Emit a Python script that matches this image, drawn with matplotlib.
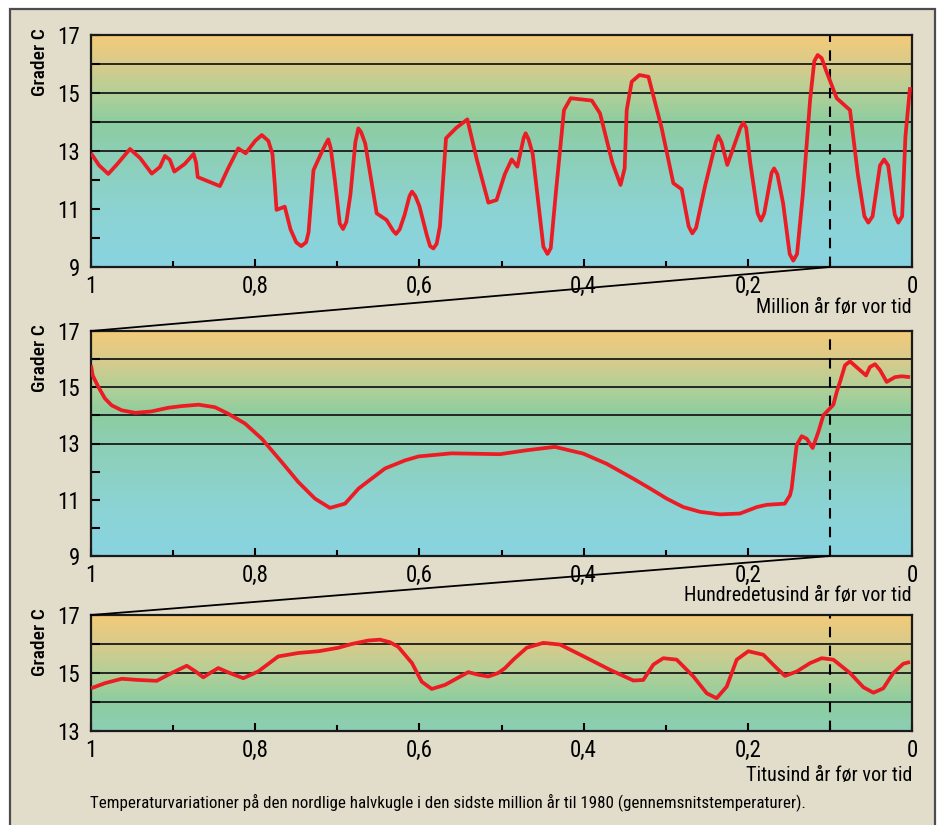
import matplotlib
matplotlib.use('Agg')
import matplotlib.pyplot as plt
import numpy as np
from matplotlib.colors import LinearSegmentedColormap, Normalize
from matplotlib.patches import Rectangle, ConnectionPatch

plt.rcParams['font.family'] = ['Roboto Condensed', 'DejaVu Sans']

# Data: (tid før nu, temperatur i grader C)
p1_points = [
    (1.000, 12.92), (0.990, 12.50), (0.979, 12.21), (0.968, 12.55), (0.9525, 13.07),
    (0.940, 12.75), (0.926, 12.22), (0.916, 12.45), (0.910, 12.83), (0.904, 12.70),
    (0.8985, 12.29), (0.886, 12.55), (0.875, 12.90), (0.872, 12.60), (0.870, 12.10),
    (0.843, 11.79), (0.833, 12.40), (0.8206, 13.09), (0.8116, 12.92), (0.800, 13.35),
    (0.792, 13.55), (0.784, 13.35), (0.779, 12.90), (0.776, 11.80), (0.774, 10.97),
    (0.764, 11.08), (0.757, 10.30), (0.750, 9.85), (0.744, 9.72), (0.738, 9.85),
    (0.735, 10.20), (0.729, 12.34), (0.720, 12.90), (0.714, 13.25), (0.711, 13.40),
    (0.708, 13.10), (0.703, 12.00), (0.697, 10.50), (0.693, 10.31), (0.689, 10.55),
    (0.684, 11.50), (0.678, 13.30), (0.6744, 13.78), (0.671, 13.65), (0.666, 13.26),
    (0.652, 10.85), (0.640, 10.62), (0.632, 10.25), (0.6285, 10.14), (0.624, 10.30),
    (0.618, 10.80), (0.612, 11.45), (0.609, 11.60), (0.605, 11.45), (0.600, 11.10),
    (0.591, 10.10), (0.587, 9.72), (0.583, 9.64), (0.579, 9.80), (0.575, 10.40),
    (0.5676, 13.44), (0.555, 13.80), (0.5416, 14.09), (0.530, 12.70), (0.516, 11.22),
    (0.506, 11.31), (0.496, 12.20), (0.4876, 12.71), (0.4807, 12.46), (0.473, 13.45),
    (0.4706, 13.61), (0.467, 13.40), (0.462, 12.90), (0.449, 9.70), (0.444, 9.45),
    (0.440, 9.65), (0.434, 11.50), (0.4239, 14.41), (0.4157, 14.82), (0.390, 14.74),
    (0.380, 14.30), (0.365, 12.60), (0.355, 11.83), (0.350, 12.40), (0.3475, 14.41),
    (0.3414, 15.39), (0.332, 15.62), (0.321, 15.56), (0.305, 13.80), (0.2907, 11.89),
    (0.2805, 11.68), (0.272, 10.40), (0.2676, 10.16), (0.263, 10.35), (0.252, 11.80),
    (0.239, 13.30), (0.236, 13.52), (0.232, 13.30), (0.225, 12.52), (0.209, 13.80),
    (0.2055, 13.98), (0.202, 13.80), (0.197, 12.60), (0.188, 10.85), (0.184, 10.60),
    (0.180, 10.85), (0.171, 12.25), (0.168, 12.40), (0.164, 12.20), (0.157, 11.20),
    (0.149, 9.45), (0.1446, 9.22), (0.140, 9.45), (0.133, 11.50), (0.124, 14.80),
    (0.119, 16.10), (0.1149, 16.31), (0.110, 16.20), (0.105, 15.80), (0.0917, 14.82),
    (0.0755, 14.41), (0.066, 12.20), (0.058, 10.75), (0.0532, 10.53), (0.048, 10.75),
    (0.039, 12.50), (0.034, 12.71), (0.029, 12.50), (0.021, 10.80), (0.0167, 10.53),
    (0.012, 10.75), (0.008, 13.50), (0.0024, 15.20)]

p2_points = [
    (1.000, 15.78), (0.998, 15.42), (0.991, 15.01), (0.983, 14.60), (0.975, 14.36),
    (0.9626, 14.18), (0.946, 14.09), (0.9264, 14.14), (0.906, 14.27), (0.8895, 14.33),
    (0.869, 14.38), (0.849, 14.29), (0.833, 14.06), (0.8124, 13.71), (0.792, 13.17),
    (0.7677, 12.34), (0.7475, 11.63), (0.7272, 11.04), (0.709, 10.71), (0.6906, 10.86),
    (0.674, 11.40), (0.642, 12.11), (0.6175, 12.40), (0.601, 12.54), (0.561, 12.65),
    (0.520, 12.63), (0.502, 12.62), (0.4693, 12.76), (0.435, 12.88), (0.4004, 12.64),
    (0.372, 12.28), (0.3395, 11.75), (0.319, 11.40), (0.2988, 11.04), (0.2786, 10.74),
    (0.2582, 10.57), (0.2338, 10.48), (0.2095, 10.51), (0.189, 10.74), (0.177, 10.82),
    (0.155, 10.86), (0.1486, 11.16), (0.1466, 11.40), (0.1434, 12.22), (0.1405, 12.94),
    (0.1344, 13.26), (0.1283, 13.17), (0.121, 12.84), (0.1141, 13.41), (0.108, 14.00),
    (0.0958, 14.38), (0.0917, 14.83), (0.0877, 15.19), (0.0816, 15.78), (0.0755, 15.92),
    (0.0654, 15.66), (0.056, 15.42), (0.0512, 15.72), (0.045, 15.82), (0.039, 15.61),
    (0.0308, 15.19), (0.0207, 15.36), (0.0126, 15.39), (0.0024, 15.36)]

p3_points = [
    (1.000, 14.47), (0.983, 14.65), (0.9626, 14.80), (0.9424, 14.76), (0.920, 14.73),
    (0.9017, 15.00), (0.8834, 15.25), (0.873, 15.06), (0.8632, 14.85), (0.855, 15.00),
    (0.845, 15.17), (0.8328, 15.02), (0.8145, 14.82), (0.796, 15.06), (0.772, 15.57),
    (0.7475, 15.69), (0.723, 15.75), (0.6988, 15.87), (0.6825, 16.00), (0.6622, 16.12),
    (0.648, 16.15), (0.6358, 16.06), (0.6257, 15.90), (0.609, 15.34), (0.5972, 14.70),
    (0.585, 14.45), (0.5688, 14.59), (0.5404, 15.03), (0.5283, 14.94), (0.516, 14.88),
    (0.504, 15.00), (0.4957, 15.17), (0.4856, 15.46), (0.4693, 15.87), (0.449, 16.04),
    (0.4287, 15.98), (0.4004, 15.58), (0.3678, 15.11), (0.3394, 14.74), (0.3273, 14.76),
    (0.315, 15.29), (0.303, 15.51), (0.2866, 15.46), (0.2663, 14.88), (0.25, 14.30),
    (0.238, 14.13), (0.2257, 14.53), (0.2135, 15.46), (0.1994, 15.75), (0.1811, 15.63),
    (0.1649, 15.17), (0.1547, 14.90), (0.1405, 15.05), (0.1242, 15.34), (0.110, 15.51),
    (0.0958, 15.46), (0.0755, 15.00), (0.0593, 14.51), (0.047, 14.32), (0.035, 14.47),
    (0.0228, 15.00), (0.0106, 15.32), (0.0024, 15.38)]

x_ticks = [1.0, 0.8, 0.6, 0.4, 0.2, 0.0]
x_tick_labels = ['1', '0,8', '0,6', '0,4', '0,2', '0']
x_labels = ['Million år før vor tid', 'Hundredetusind år før vor tid', 'Titusind år før vor tid']
y_label = 'Grader C'
caption = ('Temperaturvariationer på den nordlige halvkugle i den sidste million år '
           'til 1980 (gennemsnitstemperaturer).')
zoom_x = 0.1

# farveforløb efter temperatur (9 -> 17 grader)
grad_cmap = LinearSegmentedColormap.from_list('temp', [
    (0.0, '#89d4e1'), (0.25, '#8cd3d2'), (0.5, '#8dcfb4'), (0.625, '#8ccda0'),
    (0.75, '#b2d098'), (0.875, '#d8cb8b'), (1.0, '#f3ca7a')])
grad_norm = Normalize(9, 17)

fig = plt.figure(figsize=(9.41, 8.25), dpi=100)
fig.patch.set_facecolor('white')
frame = Rectangle((10 / 941, -0.02), 925 / 941, 1.02 - 9 / 825, transform=fig.transFigure,
                  facecolor='#e2dccb', edgecolor='#4d4d4d', lw=1.6, zorder=-10)
fig.add_artist(frame)

panels = [
    dict(rect=[91 / 941, 1 - 267 / 825, 821 / 941, 232 / 825], ylim=(9, 17),
         yticks=[9, 11, 13, 15, 17], yminor=[10, 12, 14, 16], grid=[13, 14, 15, 16],
         pts=p1_points, xl_y=308),
    dict(rect=[91 / 941, 1 - 556 / 825, 821 / 941, 225 / 825], ylim=(9, 17),
         yticks=[9, 11, 13, 15, 17], yminor=[10, 12, 14, 16], grid=[13, 14, 15, 16],
         pts=p2_points, xl_y=596),
    dict(rect=[91 / 941, 1 - 731 / 825, 821 / 941, 116 / 825], ylim=(13, 17),
         yticks=[13, 15, 17], yminor=[14, 16], grid=[14, 15, 16],
         pts=p3_points, xl_y=775),
]

axes = []
for i, p in enumerate(panels):
    ax = fig.add_axes(p['rect'])
    lo, hi = p['ylim']
    grad = np.linspace(lo, hi, 200).reshape(-1, 1)
    ax.imshow(grad, extent=[1, 0, lo, hi], origin='lower', aspect='auto',
              cmap=grad_cmap, norm=grad_norm, zorder=0)
    for g in p['grid']:
        ax.axhline(g, color='#1a1a1a', lw=1.3, zorder=1)
    ax.axvline(zoom_x, color='black', lw=1.5, ls=(0, (5, 4)), zorder=2)
    xs, ts = zip(*p['pts'])
    ax.plot(xs, ts, color='#ec1c24', lw=2.7, solid_joinstyle='round',
            solid_capstyle='butt', zorder=3)
    ax.set_xlim(1, 0)
    ax.set_ylim(lo, hi)
    ax.set_xticks(x_ticks)
    ax.set_xticklabels(x_tick_labels)
    ax.set_xticks([0.9, 0.7, 0.5, 0.3, 0.1], minor=True)
    ax.set_yticks(p['yticks'])
    ax.set_yticks(p['yminor'], minor=True)
    ax.tick_params(axis='x', which='major', direction='in', length=6, width=1.5,
                   labelsize=16.5, pad=6)
    ax.tick_params(axis='x', which='minor', direction='in', length=4, width=1.5)
    ax.tick_params(axis='y', which='both', direction='in', length=6.5, width=1.5,
                   labelsize=16.5, pad=8)
    for s in ax.spines.values():
        s.set_linewidth(1.6)
        s.set_color('#1a1a1a')
    fig.text(912 / 941, 1 - p['xl_y'] / 825, x_labels[i], ha='right', va='center',
             fontsize=14.5)
    fig.text(40 / 941, p['rect'][1] + p['rect'][3] + 0.008, y_label, rotation=90,
             ha='center', va='top', fontsize=14, fontweight='medium')
    axes.append(ax)

# forbindelseslinjer mellem panelerne
for a, b in [(axes[0], axes[1]), (axes[1], axes[2])]:
    con = ConnectionPatch(xyA=(zoom_x, a.get_ylim()[0]), coordsA=a.transData,
                          xyB=(1, b.get_ylim()[1]), coordsB=b.transData,
                          color='black', lw=1.3)
    fig.add_artist(con)

fig.text(90 / 941, 1 - 802 / 825, caption, ha='left', va='center', fontsize=12.2)

fig.savefig('out.png', dpi=100)
